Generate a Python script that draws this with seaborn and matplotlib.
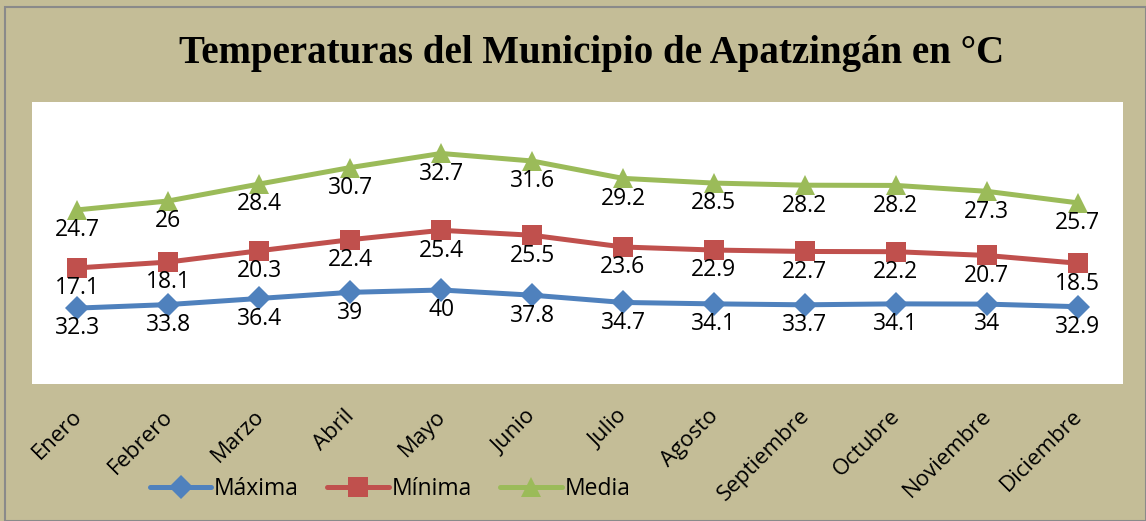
import numpy as np
import pandas as pd
import matplotlib
matplotlib.use("Agg")
import matplotlib.pyplot as plt
import matplotlib.transforms as mtrans
import seaborn as sns
from matplotlib.patches import Rectangle

months = ["Enero", "Febrero", "Marzo", "Abril", "Mayo", "Junio", "Julio",
          "Agosto", "Septiembre", "Octubre", "Noviembre", "Diciembre"]
maxima = [32.3, 33.8, 36.4, 39, 40, 37.8, 34.7, 34.1, 33.7, 34.1, 34, 32.9]
minima = [17.1, 18.1, 20.3, 22.4, 25.4, 25.5, 23.6, 22.9, 22.7, 22.2, 20.7, 18.5]
media = [24.7, 26, 28.4, 30.7, 32.7, 31.6, 29.2, 28.5, 28.2, 28.2, 27.3, 25.7]
series_names = ["Máxima", "Mínima", "Media"]

raw = [maxima, minima, media]
stacked = np.cumsum(np.array(raw, dtype=float), axis=0)  # stacked line chart

rows = []
for name, vals, svals in zip(series_names, raw, stacked):
    for i, (v, s) in enumerate(zip(vals, svals)):
        rows.append({"idx": i, "mes": months[i], "serie": name, "valor": v, "apilado": s})
df = pd.DataFrame(rows)

colors = {"Máxima": "#4F81BD", "Mínima": "#C0504D", "Media": "#9BBB59"}
markers = {"Máxima": "D", "Mínima": "s", "Media": "^"}
msizes = {"Máxima": 12.5, "Mínima": 14, "Media": 14}

bg = "#C4BD97"
sns.set_theme(style="white")
plt.rcParams['font.family'] = ['Open Sans', 'DejaVu Sans']
plt.rcParams['text.color'] = 'black'
plt.rcParams['xtick.color'] = 'black'

fig = plt.figure(figsize=(11.46, 5.21), dpi=100, facecolor=bg)
ax = fig.add_axes([32/1146, 1 - 384/521, (1123-32)/1146, (384-102)/521])
ax.set_facecolor("white")

for name in series_names:
    sub = df[df.serie == name]
    sns.lineplot(data=sub, x="idx", y="apilado", ax=ax, color=colors[name],
                 marker=markers[name], markersize=msizes[name], markeredgewidth=0,
                 linewidth=3.6, label=name, legend=False)
    for _, r in sub.iterrows():
        ax.annotate(f"{r.valor:g}", (r.idx, r.apilado), xytext=(0, -6),
                    textcoords="offset points", ha="center", va="top",
                    fontsize=16.5, color="black")

ax.set_xlim(-0.5, 11.5)
ax.set_ylim(0, 120)
ax.set_yticks([])
ax.set_xticks(range(len(months)))
ax.set_xticklabels(months, rotation=45, ha="right", va="top",
                   rotation_mode="anchor", fontsize=16, color="black")
ax.tick_params(axis="x", length=0, pad=15.5)
offset = mtrans.ScaledTranslation(-6/100, 0, fig.dpi_scale_trans)
for lbl in ax.get_xticklabels():
    lbl.set_transform(lbl.get_transform() + offset)
ax.set_xlabel("")
ax.set_ylabel("")
for s in ax.spines.values():
    s.set_visible(False)

handles, labels = ax.get_legend_handles_labels()
leg = fig.legend(handles, labels, loc="center", bbox_to_anchor=(390/1146, 1 - 489/521),
                 ncol=3, frameon=False, fontsize=16.5, handlelength=2.7, handletextpad=0.1,
                 columnspacing=1.25)
for t in leg.get_texts():
    t.set_color("black")

fig.text(592/1146, 1 - 53/521, "Temperaturas del Municipio de Apatzingán en °C",
         ha="center", va="center", fontsize=28, fontweight="bold", color="black",
         family=["Liberation Serif", "DejaVu Serif"])

fig.patches.append(Rectangle((5/1146, 0), 1 - 5/1146, 1 - 7/521, transform=fig.transFigure,
                             fill=False, edgecolor="#8a8a8a", linewidth=1.5))

fig.savefig("out.png", dpi=100, facecolor=bg)
